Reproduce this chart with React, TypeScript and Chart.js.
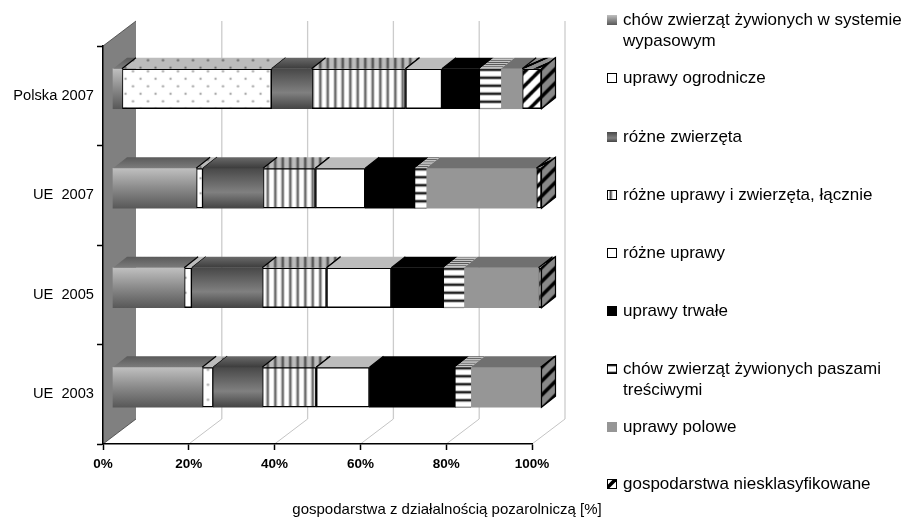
import React, { useEffect, useRef } from "react";
import { Chart, registerables } from "chart.js";

Chart.register(...registerables);

const categories = ["Polska 2007", "UE  2007", "UE  2005", "UE  2003"];
const xTicks = [0, 20, 40, 60, 80, 100];
const axisTitle = "gospodarstwa z działalnością pozarolniczą [%]";

const grazing = [2.2, 19.5, 16.7, 20.9];
const horticulture = [34.9, 1.6, 1.8, 2.6];
const mixedAnimals = [9.3, 14.0, 16.4, 11.4];
const cropsAndAnimals = [21.9, 12.2, 15.0, 12.6];
const mixedCrops = [8.5, 11.6, 15.1, 12.4];
const permanentCrops = [8.8, 11.6, 12.2, 20.0];
const grainFed = [4.9, 2.6, 4.7, 3.6];
const fieldCrops = [5.0, 25.7, 17.4, 16.3];
const unclassified = [4.5, 1.2, 0.7, 0.2];

const seriesNames = [
  ["chów zwierząt żywionych w systemie", "wypasowym"],
  ["uprawy ogrodnicze"],
  ["różne zwierzęta"],
  ["różne uprawy i zwierzęta, łącznie"],
  ["różne uprawy"],
  ["uprawy trwałe"],
  ["chów zwierząt żywionych paszami", "treściwymi"],
  ["uprawy polowe"],
  ["gospodarstwa niesklasyfikowane"],
];
const seriesValues = [
  grazing, horticulture, mixedAnimals, cropsAndAnimals, mixedCrops,
  permanentCrops, grainFed, fieldCrops, unclassified,
];
const kinds = ["grad1", "dots", "grad2", "vert", "white", "black", "horiz", "gray", "diag"];
const bordered = new Set(["dots", "vert", "white", "diag"]);

const DX = 14, DY = 11, BAR_SHIFT_X = 9.5, BAR_SHIFT_Y = -7, BAR_H = 40;
const WALL_DX = 33, WALL_DY = 25;
const legendLineY = [[20, 41], [78], [137], [195], [253], [311], [369, 390], [427], [484]];
const FONT = '"Liberation Sans", Arial, sans-serif';

function tile(w: number, h: number, draw: (c: CanvasRenderingContext2D) => void) {
  const cv = document.createElement("canvas");
  cv.width = w;
  cv.height = h;
  draw(cv.getContext("2d")!);
  return cv;
}

function dotsTile(bg: string, dot: string) {
  return tile(15, 15, (c) => {
    c.fillStyle = bg;
    c.fillRect(0, 0, 15, 15);
    c.fillStyle = dot;
    for (const [x, y] of [[3.5, 2.5], [11, 10]]) {
      c.beginPath();
      c.arc(x, y, 1.2, 0, Math.PI * 2);
      c.fill();
    }
  });
}
function vertTile(bg: string, soft: string, hard: string) {
  return tile(15, 4, (c) => {
    c.fillStyle = bg;
    c.fillRect(0, 0, 15, 4);
    for (const x of [2, 9.5]) {
      c.fillStyle = soft;
      c.fillRect(x - 0.5, 0, 3.5, 4);
      c.fillStyle = hard;
      c.fillRect(x + 0.5, 0, 1.5, 4);
    }
  });
}
function horizTile(bg: string, soft: string, hard: string) {
  return tile(4, 8, (c) => {
    c.fillStyle = bg;
    c.fillRect(0, 0, 4, 8);
    c.fillStyle = soft;
    c.fillRect(0, 2, 4, 1);
    c.fillRect(0, 7, 4, 1);
    c.fillStyle = hard;
    c.fillRect(0, 0, 4, 2);
  });
}
function diagTile(bg: string) {
  return tile(14, 14, (c) => {
    c.fillStyle = bg;
    c.fillRect(0, 0, 14, 14);
    c.strokeStyle = "#000";
    c.lineWidth = 3.6;
    for (const o of [-14, 0, 14]) {
      c.beginPath();
      c.moveTo(o - 2, 16);
      c.lineTo(o + 16, -2);
      c.stroke();
    }
  });
}

function vGrad(c: CanvasRenderingContext2D, top: number, h: number, stops: [number, string][]) {
  const g = c.createLinearGradient(0, top, 0, top + h);
  stops.forEach(([o, col]) => g.addColorStop(o, col));
  return g;
}
function pat(c: CanvasRenderingContext2D, t: HTMLCanvasElement, m: number[]) {
  const p = c.createPattern(t, "repeat")!;
  p.setTransform(new DOMMatrix(m));
  return p;
}

function frontFill(c: CanvasRenderingContext2D, kind: string, top: number, h: number) {
  switch (kind) {
    case "grad1":
      return vGrad(c, top, h, [[0, "#c0c0c0"], [0.5, "#8a8a8a"], [1, "#585858"]]);
    case "grad2":
      return vGrad(c, top, h, [[0, "#484848"], [0.6, "#808080"], [1, "#444444"]]);
    case "dots":
      return pat(c, dotsTile("#ffffff", "#a8a8a8"), [1, 0, 0, 1, 0, top]);
    case "vert":
      return pat(c, vertTile("#ffffff", "#b8b8b8", "#5a5a5a"), [1, 0, 0, 1, 0, top]);
    case "horiz":
      return pat(c, horizTile("#ffffff", "#b8b8b8", "#222222"), [1, 0, 0, 1, 0, top]);
    case "diag":
      return pat(c, diagTile("#ffffff"), [1, 0, 0, 1, 0, top]);
    case "black":
      return "#000000";
    case "gray":
      return "#969696";
    default:
      return "#ffffff";
  }
}

function topFill(c: CanvasRenderingContext2D, kind: string, y0: number) {
  const k = DX / DY;
  const sheared = [1, 0, -k, 1, k * y0, 0];
  const straight = [1, 0, 0, 1, 0, y0 + 4];
  const s = DY / BAR_H;
  const squashed = [1, 0, -k * s, s, 0, y0];
  const back = y0 - DY;
  switch (kind) {
    case "grad1":
      return vGrad(c, back, DY, [[0, "#5a5a5a"], [1, "#7c7c7c"]]);
    case "grad2":
      return vGrad(c, back, DY, [[0, "#6a6a6a"], [1, "#3c3c3c"]]);
    case "dots":
      return pat(c, dotsTile("#bcbcbc", "#6c6c6c"), straight);
    case "vert":
      return pat(c, vertTile("#bcbcbc", "#8a8a8a", "#4a4a4a"), straight);
    case "horiz":
      return pat(c, horizTile("#c4c4c4", "#8a8a8a", "#5a5a5a"), squashed);
    case "diag":
      return pat(c, diagTile("#909090"), sheared);
    case "black":
      return "#000000";
    case "gray":
      return "#707070";
    default:
      return "#bcbcbc";
  }
}

const scenePlugin = {
  id: "scene",
  beforeDraw(chart: any) {
    const c: CanvasRenderingContext2D = chart.ctx;
    const { left, top, bottom } = chart.chartArea;
    c.save();
    // back wall
    c.beginPath();
    c.moveTo(left, top);
    c.lineTo(left + WALL_DX, top - WALL_DY);
    c.lineTo(left + WALL_DX, bottom - WALL_DY);
    c.lineTo(left, bottom);
    c.closePath();
    c.fillStyle = "#808080";
    c.fill();
    c.strokeStyle = "#404040";
    c.lineWidth = 0.8;
    c.beginPath();
    c.moveTo(left, top);
    c.lineTo(left + WALL_DX, top - WALL_DY);
    c.moveTo(left, bottom);
    c.lineTo(left + WALL_DX, bottom - WALL_DY);
    c.stroke();
    // 3D grid lines from the value scale
    const sx = chart.scales.x;
    xTicks.slice(1).forEach((v) => {
      const x = sx.getPixelForValue(v);
      c.strokeStyle = "#c4c4c4";
      c.lineWidth = 1;
      c.beginPath();
      c.moveTo(x, bottom);
      c.lineTo(x + WALL_DX, bottom - WALL_DY);
      c.stroke();
      c.strokeStyle = "#cccccc";
      c.lineWidth = 1.3;
      c.beginPath();
      c.moveTo(x + WALL_DX, bottom - WALL_DY);
      c.lineTo(x + WALL_DX, top - WALL_DY);
      c.stroke();
    });
    c.restore();
  },
  beforeDatasetsDraw(chart: any) {
    chart.ctx.save();
    chart.ctx.translate(BAR_SHIFT_X, BAR_SHIFT_Y);
  },
  afterDatasetsDraw(chart: any) {
    const c: CanvasRenderingContext2D = chart.ctx;
    const n = chart.data.datasets.length;
    chart.data.labels.forEach((_: string, i: number) => {
      for (let d = 0; d < n; d++) {
        const el = chart.getDatasetMeta(d).data[i];
        const kind = kinds[d];
        const x0 = el.base, x1 = el.x, y0 = el.y - BAR_H / 2, y1 = el.y + BAR_H / 2;
        c.beginPath();
        c.moveTo(x0, y0);
        c.lineTo(x0 + DX, y0 - DY);
        c.lineTo(x1 + DX, y0 - DY);
        c.lineTo(x1, y0);
        c.closePath();
        c.fillStyle = topFill(c, kind, y0) as any;
        c.fill();
        if (bordered.has(kind)) {
          c.strokeStyle = "#000";
          c.lineWidth = 1.2;
          c.beginPath();
          c.moveTo(x0, y0);
          c.lineTo(x0 + DX, y0 - DY);
          c.moveTo(x1, y0);
          c.lineTo(x1 + DX, y0 - DY);
          c.stroke();
        }
        if (d === n - 1) {
          c.beginPath();
          c.moveTo(x1, y0);
          c.lineTo(x1 + DX, y0 - DY);
          c.lineTo(x1 + DX, y1 - DY);
          c.lineTo(x1, y1);
          c.closePath();
          c.fillStyle = pat(c, diagTile("#888888"), [1, 0, 0, 1, 0, y0]) as any;
          c.fill();
          c.strokeStyle = "#000";
          c.lineWidth = 1.2;
          c.stroke();
        }
      }
    });
    c.restore();
  },
  afterDraw(chart: any) {
    const c: CanvasRenderingContext2D = chart.ctx;
    c.save();
    c.fillStyle = "#000";
    c.textBaseline = "middle";
    c.textAlign = "center";
    c.font = `15px ${FONT}`;
    c.fillText(axisTitle, 447, 510);
    c.textAlign = "left";
    c.font = `17px ${FONT}`;
    seriesNames.forEach((lines, d) => {
      const ys = legendLineY[d];
      lines.forEach((line, j) => c.fillText(line, 623, ys[j]));
      const top = ys[0] - 5;
      c.fillStyle = frontFill(c, kinds[d], top, 10) as any;
      c.fillRect(607, top, 10, 10);
      if (bordered.has(kinds[d]) || kinds[d] === "horiz") {
        c.strokeStyle = "#000";
        c.lineWidth = 1;
        c.strokeRect(607.5, top + 0.5, 9, 9);
      }
      c.fillStyle = "#000";
    });
    c.restore();
  },
};

export default function App() {
  const ref = useRef<HTMLCanvasElement>(null);
  useEffect(() => {
    const chart = new Chart(ref.current!, {
      type: "bar",
      data: {
        labels: categories,
        datasets: seriesValues.map((values, d) => ({
          label: seriesNames[d].join(" "),
          data: values,
          barThickness: BAR_H,
          borderSkipped: false,
          clip: false,
          borderWidth: bordered.has(kinds[d]) ? 1.5 : 0,
          borderColor: "#000000",
          backgroundColor: (ctx: any) => {
            const sy = ctx.chart.scales.y;
            const top = sy && ctx.type === "data" ? sy.getPixelForValue(ctx.dataIndex) - BAR_H / 2 : NaN;
            return Number.isFinite(top) ? frontFill(ctx.chart.ctx, kinds[d], top, BAR_H) : "#808080";
          },
        })),
      } as any,
      options: {
        indexAxis: "y",
        animation: false,
        responsive: false,
        events: [],
        layout: { padding: { left: 0, top: 46, right: 373, bottom: 0 } },
        plugins: { legend: { display: false }, tooltip: { enabled: false } },
        scales: {
          x: {
            stacked: true,
            min: 0,
            max: 100,
            afterFit: (s: any) => { s.height = 75; },
            afterBuildTicks: (s: any) => { s.ticks = xTicks.map((value) => ({ value })); },
            grid: { drawOnChartArea: false, drawTicks: true, tickLength: 6, tickColor: "#000", tickWidth: 1.5 },
            border: { display: true, color: "#000", width: 1.5 },
            ticks: {
              callback: (v: any) => `${v}%`,
              color: "#000",
              font: { family: FONT, size: 13.5, weight: "bold" },
              padding: 6,
              maxRotation: 0,
              autoSkip: false,
            },
          },
          y: {
            stacked: true,
            afterFit: (s: any) => { s.width = 103; },
            grid: { drawOnChartArea: false, drawTicks: true, tickLength: 6, tickColor: "#000", tickWidth: 1.5 },
            border: { display: true, color: "#000", width: 1.5 },
            ticks: { color: "#000", font: { family: FONT, size: 14.67 }, padding: 3 },
          },
        },
      } as any,
      plugins: [scenePlugin as any],
    });
    return () => chart.destroy();
  }, []);
  return (
    <div style={{ position: "absolute", left: 0, top: 0, width: 905, height: 519 }}>
      <canvas ref={ref} width={905} height={519} style={{ display: "block" }} />
    </div>
  );
}
